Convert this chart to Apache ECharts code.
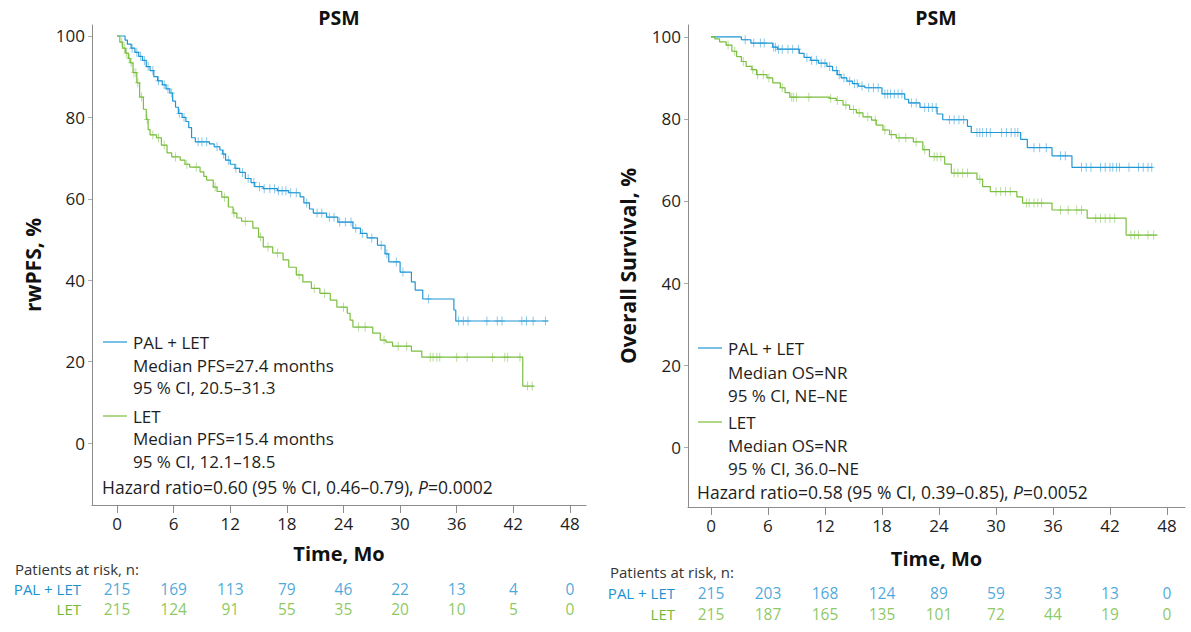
<!DOCTYPE html>
<html><head><meta charset="utf-8">
<script src="https://cdn.jsdelivr.net/npm/echarts@6/dist/echarts.min.js"></script>
<style>html,body{margin:0;padding:0;background:#fff}#c{width:1191px;height:632px}</style>
</head><body><div id="c"></div>
<script>
// ---------- DATA ----------
const xTicks = [0, 6, 12, 18, 24, 30, 36, 42, 48];
const yTicks = [0, 20, 40, 60, 80, 100];
const riskRows = ['PAL + LET', 'LET'];

// rwPFS (left panel) Kaplan-Meier steps [month, %]
const pfsPalLet = [[0,100],[0.85,99],[1.1,98],[1.5,97],[1.9,96],[2.3,95],[2.7,94],[3.1,92.5],[3.5,91.5],[3.9,90],[4.3,89],[4.8,88],[5.2,87],[5.6,86],[5.9,84],[6.2,82.5],[6.5,81],[6.9,80],[7.3,79],[7.6,77.5],[7.9,75],[8.3,74],[9.8,73.5],[10.3,72.8],[10.9,72],[11.2,71],[11.5,69.5],[12,68.5],[12.5,67.5],[13,66.5],[13.6,65],[14.2,64],[14.6,63],[15.5,62.5],[17,62],[18.2,61.5],[19.4,60.5],[19.8,59],[20.4,57.5],[20.8,56.5],[22.2,55.5],[23.4,54.3],[25,52.8],[25.8,51.5],[26.5,50.4],[27.6,48.6],[28.4,46.5],[28.8,44.5],[30,42],[31.2,39.6],[31.6,37.6],[32.4,35.4],[35.7,32.7],[35.9,30],[45.7,30]];
const pfsLet = [[0,100],[0.3,98.5],[0.6,97],[0.9,95.8],[1.2,94.5],[1.4,93.4],[1.7,91],[2.1,88.5],[2.4,85],[2.8,82],[3.1,79.5],[3.3,77],[3.5,75.7],[4.2,75],[4.7,73.2],[5.3,71.3],[5.8,70.3],[6.7,69.5],[7.2,68.5],[7.7,67.8],[8.8,66.6],[9.2,65.5],[9.5,64.6],[10.2,62.9],[10.6,61.8],[11.1,60.4],[11.8,58],[12.3,56.5],[12.7,55.3],[13.2,54.5],[14.4,52.8],[15,50.6],[15.5,48.2],[16.5,46.7],[17.6,45],[18.2,43.2],[19,41.3],[19.7,39.6],[20.6,38],[21.5,36.8],[22.6,35.1],[23.3,33.4],[24.4,31.9],[24.7,30.2],[25,28.5],[27.1,27],[27.9,25.3],[28.5,24.8],[29.2,23.8],[31.2,22.6],[32.3,21.1],[43,14],[44.2,14]];
const pfsPalLetCensor = [1.6,2.1,2.5,2.9,3.3,3.8,4.4,5.0,5.4,5.8,6.6,7.1,8.6,9.0,9.5,10.6,11.3,11.8,12.6,13.3,13.9,14.5,15.1,15.6,16.2,16.7,17.1,17.5,17.9,18.4,19.0,20.1,21.2,21.7,22.5,23.0,23.6,24.2,24.8,25.3,26.0,27.0,28.0,28.6,29.6,30.3,33.0,36.2,36.7,37.2,39.2,40.3,40.8,42.9,43.4,44.1,45.4];
const pfsLetCensor = [0.5,0.8,1.0,1.3,1.5,1.8,2.0,2.2,2.6,3.2,3.8,4.4,5.0,6.2,7.4,8.4,10.4,11.4,12.4,13.6,15.2,16.0,17.0,19.3,20.9,22.0,24.0,25.6,26.3,28.3,29.8,30.7,33.2,33.5,33.9,34.2,36.0,37.1,39.8,41.1,41.4,42.7,43.5,44.0];

// Overall survival (right panel)
const osPalLet = [[0,100],[3.2,99.3],[4.2,98.5],[6.5,97.5],[7,97],[9.3,96],[9.8,95],[10.5,94.3],[11.3,93.6],[12.2,92.8],[12.8,91.8],[13.3,90.8],[13.7,90],[14.3,89.2],[14.9,88.6],[15.5,88],[16.2,87.6],[18,86.1],[20.4,84.8],[20.8,83.9],[22,82.8],[23.8,81.2],[24.4,79.8],[27,78.2],[27.4,76.7],[32.6,75],[33.3,73],[35.9,71],[38,68.2],[46.5,68.2]];
const osLet = [[0,100],[0.4,99.5],[0.9,98.8],[1.6,98],[2.2,96.5],[2.7,95.2],[3.2,94],[3.7,92.8],[4.3,92],[4.8,90.8],[5.9,90],[6.5,88.8],[7.3,87.6],[7.8,86.4],[8.3,85.3],[12.5,85],[13.2,84.5],[13.9,83.4],[14.6,82.3],[15.3,81.5],[16,80.5],[16.9,79.7],[17.4,78.5],[18.1,77.3],[18.8,76.2],[19.5,75.4],[21.3,74.4],[22.3,72.5],[23,70.8],[24.6,69],[25.3,66.8],[28,65.3],[28.6,63.5],[29.4,62.3],[32.2,61],[32.8,59.5],[35.9,57.8],[39.6,55.8],[43.7,51.7],[47,51.7]];
const osPalLetCensor = [3.6,4.5,5.2,5.6,6.6,6.8,7.1,7.5,8.1,8.6,9.2,10.1,10.6,11.1,11.6,12.0,12.5,13.2,13.5,14.0,14.6,15.1,15.4,15.9,16.6,17.1,17.6,18.3,18.6,18.9,19.3,19.7,20.1,21.1,21.6,22.5,22.9,23.3,23.7,25.1,25.6,26.1,26.6,28.0,28.3,28.6,29.0,29.4,30.6,31.1,31.6,32.0,32.3,34.0,34.6,35.3,36.8,37.3,39.0,39.5,40.0,41.0,41.5,42.0,42.3,42.7,43.0,44.0,45.0,45.5,46.0,46.4];
const osLetCensor = [1.8,2.5,3.4,4.4,4.9,5.5,6.1,7.5,8.5,8.7,9.0,10.3,12.6,13.3,14.2,15.0,15.6,16.5,17.3,18.3,19.0,19.8,20.5,21.6,22.5,23.5,23.8,24.2,25.6,26.0,26.5,27.0,28.3,30.0,30.5,31.0,31.5,33.2,33.5,34.0,34.4,34.8,36.8,37.6,38.5,39.0,40.5,41.0,41.5,42.0,42.5,44.2,44.6,45.0,46.0,46.6];

// Patients at risk
const riskPfsPalLet = [215,169,113,79,46,22,13,4,0];
const riskPfsLet = [215,124,91,55,35,20,10,5,0];
const riskOsPalLet = [215,203,168,124,89,59,33,13,0];
const riskOsLet = [215,187,165,135,101,72,44,19,0];

// ---------- STYLE / LAYOUT ----------
const BLUE = '#1f97d6', GREEN = '#7abf3f';
const BLUE_T = '#1b93d2', GREEN_T = '#6fba38';
const FONT = '"Open Sans", "DejaVu Sans", sans-serif';
const AX = '#8c8c8c', TXT = '#1e1e1e';
const P = [
  {left:92, top:25, width:494, height:480, xmin:-2.65, xmax:49.7, ymin:-15.2, ymax:102.7, yname:'rwPFS, %', ygap:49, xgap:38, risk:{top:579,height:40,margin:11}},
  {left:688, top:25, width:497, height:482, xmin:-2.42, xmax:49.9, ymin:-14.6, ymax:102.9, yname:'Overall Survival, %', ygap:50, xgap:41, risk:{top:582,height:42,margin:13}}
];

function stepAt(curve, t) {
  let v = curve[0][1];
  for (const p of curve) { if (p[0] <= t) v = p[1]; else break; }
  return v;
}
const PLUS = 'path://M-1,-0.1L1,-0.1L1,0.1L-1,0.1Z M-0.16,-1L0.16,-1L0.16,1L-0.16,1Z';

const grids = [], xAxes = [], yAxes = [], series = [];
P.forEach((p, i) => {
  grids.push({left:p.left, top:p.top, width:p.width, height:p.height, containLabel:false});
  xAxes.push({gridIndex:i, type:'value', min:p.xmin, max:p.xmax,
    axisLine:{show:true, onZero:false, lineStyle:{color:AX, width:1}},
    axisTick:{show:true, customValues:xTicks, length:8, lineStyle:{color:AX}},
    axisLabel:{customValues:xTicks, fontSize:17, color:TXT, margin:10, fontFamily:FONT},
    splitLine:{show:false},
    name:'Time, Mo', nameLocation:'middle', nameGap:p.xgap,
    nameTextStyle:{fontSize:20, fontWeight:'bold', color:'#111', fontFamily:FONT}});
  yAxes.push({gridIndex:i, type:'value', min:p.ymin, max:p.ymax,
    axisLine:{show:true, onZero:false, lineStyle:{color:AX, width:1}},
    axisTick:{show:true, customValues:yTicks, length:4, lineStyle:{color:'#aaa'}},
    axisLabel:{customValues:yTicks, fontSize:17, color:TXT, margin:7, fontFamily:FONT},
    splitLine:{show:false},
    name:p.yname, nameLocation:'middle', nameGap:p.ygap, nameRotate:90,
    nameTextStyle:{fontSize:21, fontWeight:'bold', color:'#111', fontFamily:FONT}});
});
// risk-table grids
P.forEach((p, i) => {
  grids.push({left:p.left, top:p.risk.top, width:p.width, height:p.risk.height});
  xAxes.push({gridIndex:2+i, type:'value', min:p.xmin, max:p.xmax, show:false});
  yAxes.push({gridIndex:2+i, type:'category', data:riskRows, inverse:true,
    axisLine:{show:false}, axisTick:{show:false}, splitLine:{show:false},
    axisLabel:{margin:p.risk.margin, fontSize:15, fontFamily:FONT,
      color:(v) => v === 'LET' ? GREEN_T : BLUE_T}});
});

function km(name, data, color, idx) {
  series.push({name, type:'line', step:'end', xAxisIndex:idx, yAxisIndex:idx, data,
    showSymbol:false, symbol:'none', lineStyle:{color, width:1.2}, animation:false, z:3});
}
function censor(times, curve, color, idx) {
  series.push({type:'scatter', xAxisIndex:idx, yAxisIndex:idx,
    data: times.map(t => [t, stepAt(curve, t)]),
    symbol:PLUS, symbolSize:[6,9], itemStyle:{color, opacity:0.55}, animation:false, z:4, silent:true});
}
km('PAL + LET', pfsPalLet, BLUE, 0); censor(pfsPalLetCensor, pfsPalLet, BLUE, 0);
km('LET', pfsLet, GREEN, 0); censor(pfsLetCensor, pfsLet, GREEN, 0);
km('PAL + LET', osPalLet, BLUE, 1); censor(osPalLetCensor, osPalLet, BLUE, 1);
km('LET', osLet, GREEN, 1); censor(osLetCensor, osLet, GREEN, 1);

function riskSeries(vals, row, color, idx) {
  series.push({type:'scatter', xAxisIndex:idx, yAxisIndex:idx, symbolSize:1,
    itemStyle:{color:'transparent'}, animation:false, silent:true,
    data: xTicks.map((t, k) => [t, row, vals[k]]),
    label:{show:true, position:'inside', formatter:(d) => String(d.value[2]),
      fontSize:15.5, color, fontFamily:FONT}});
}
riskSeries(riskPfsPalLet, 0, BLUE_T, 2); riskSeries(riskPfsLet, 1, GREEN_T, 2);
riskSeries(riskOsPalLet, 0, BLUE_T, 3); riskSeries(riskOsLet, 1, GREEN_T, 3);

// ---------- free texts (titles, legends) ----------
function txt(x, y, text, opt) {
  opt = opt || {};
  return {type:'text', x, y, silent:true, style:Object.assign({text, fontSize:17, fontFamily:FONT,
    fill:'#1e1e1e', align:'left', verticalAlign:'middle', textAlign:'left', textVerticalAlign:'middle'}, opt)};
}
function line(x1, x2, y, color) {
  return {type:'line', silent:true, shape:{x1, y1:y, x2, y2:y}, style:{stroke:color, lineWidth:1.2}};
}
const legends = [
  {lx:103, tx:133, hx:102, ys:[342,365,387,416,438,461,487],
   t:['PAL + LET','Median PFS=27.4 months','95 % CI, 20.5–31.3','LET','Median PFS=15.4 months','95 % CI, 12.1–18.5'],
   hz:'Hazard ratio=0.60 (95 % CI, 0.46–0.79), {i|P}=0.0002'},
  {lx:698, tx:728, hx:697, ys:[348,372,395,422,445,468,492],
   t:['PAL + LET','Median OS=NR','95 % CI, NE–NE','LET','Median OS=NR','95 % CI, 36.0–NE'],
   hz:'Hazard ratio=0.58 (95 % CI, 0.39–0.85), {i|P}=0.0052'}
];
const graphic = [];
legends.forEach(g => {
  graphic.push(line(g.lx, g.lx + 24, g.ys[0], BLUE));
  graphic.push(line(g.lx, g.lx + 24, g.ys[3], GREEN));
  g.t.forEach((s, k) => graphic.push(txt(g.tx, g.ys[k], s)));
  graphic.push(txt(g.hx, g.ys[6], g.hz, {fontSize:17.5, rich:{i:{fontStyle:'italic', fontSize:17.5, fontFamily:FONT, fill:'#1e1e1e'}}}));
});
graphic.push(txt(339, 17, 'PSM', {fontSize:19.5, fontWeight:'bold', align:'center', textAlign:'center', fill:'#111'}));
graphic.push(txt(936, 17, 'PSM', {fontSize:19.5, fontWeight:'bold', align:'center', textAlign:'center', fill:'#111'}));
graphic.push(txt(15, 569, 'Patients at risk, n:', {fontSize:15, fill:'#333'}));
graphic.push(txt(610, 572, 'Patients at risk, n:', {fontSize:15, fill:'#333'}));

const chart = echarts.init(document.getElementById('c'), null, {renderer:'svg'});
chart.setOption({animation:false, backgroundColor:'#fff', grid:grids, xAxis:xAxes, yAxis:yAxes, series, graphic});
</script></body></html>
